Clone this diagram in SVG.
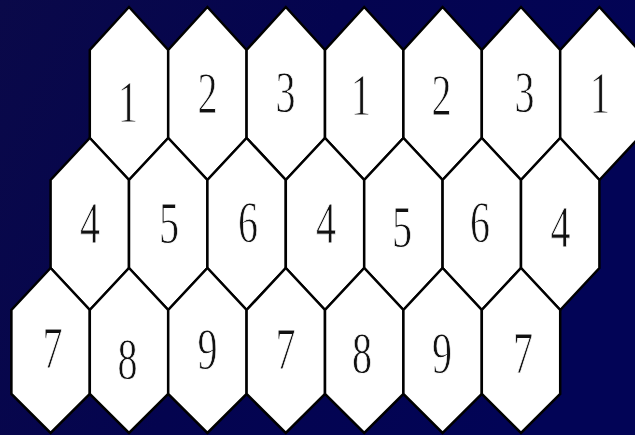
<svg xmlns="http://www.w3.org/2000/svg" width="635" height="435" viewBox="0 0 635 435">
<defs>
<linearGradient id="bg" x1="0" y1="0" x2="1" y2="0.3">
<stop offset="0" stop-color="#0a0949"/>
<stop offset="0.5" stop-color="#04044f"/>
<stop offset="1" stop-color="#020456"/>
</linearGradient>
</defs>
<style>
.hex{fill:#fff;stroke:#000;stroke-width:2.5;stroke-linejoin:miter}
.num{font-family:"Liberation Serif","Times New Roman",serif;font-size:40px;fill:#111;stroke:#fff;stroke-width:0.6;text-anchor:middle}
</style>
<rect x="0" y="0" width="635" height="435" fill="url(#bg)"/>
<g id="row1" font-family="Liberation Serif, serif">
<g id="h1-1"><polygon class="hex" points="129,7 168.2,50 168.2,138 129,180 89.8,138 89.8,50"/><text class="num" transform="translate(128,121.7) scale(1,1.48)">1</text></g>
<g id="h1-2"><polygon class="hex" points="207.4,7 246.6,50 246.6,138 207.4,180 168.2,138 168.2,50"/><text class="num" transform="translate(207.5,112.5) scale(1,1.48)">2</text></g>
<g id="h1-3"><polygon class="hex" points="285.8,7 325,50 325,138 285.8,180 246.6,138 246.6,50"/><text class="num" transform="translate(285.5,111.5) scale(1,1.48)">3</text></g>
<g id="h1-4"><polygon class="hex" points="364.2,7 403.4,50 403.4,138 364.2,180 325,138 325,50"/><text class="num" transform="translate(361,115) scale(1,1.48)">1</text></g>
<g id="h1-5"><polygon class="hex" points="442.6,7 481.8,50 481.8,138 442.6,180 403.4,138 403.4,50"/><text class="num" transform="translate(441.5,115) scale(1,1.48)">2</text></g>
<g id="h1-6"><polygon class="hex" points="521,7 560.2,50 560.2,138 521,180 481.8,138 481.8,50"/><text class="num" transform="translate(524.5,111.5) scale(1,1.48)">3</text></g>
<g id="h1-7"><polygon class="hex" points="599.4,7 638.6,50 638.6,138 599.4,180 560.2,138 560.2,50"/><text class="num" transform="translate(600,112.5) scale(1,1.48)">1</text></g>
</g>
<g id="row2">
<g id="h2-1"><polygon class="hex" points="89.8,138 129,180 129,268 89.8,310 50.6,268 50.6,180"/><text class="num" transform="translate(90,243) scale(1,1.48)">4</text></g>
<g id="h2-2"><polygon class="hex" points="168.2,138 207.4,180 207.4,268 168.2,310 129,268 129,180"/><text class="num" transform="translate(169,242.7) scale(1,1.48)">5</text></g>
<g id="h2-3"><polygon class="hex" points="246.6,138 285.8,180 285.8,268 246.6,310 207.4,268 207.4,180"/><text class="num" transform="translate(248,241.7) scale(1,1.48)">6</text></g>
<g id="h2-4"><polygon class="hex" points="325,138 364.2,180 364.2,268 325,310 285.8,268 285.8,180"/><text class="num" transform="translate(326,243) scale(1,1.48)">4</text></g>
<g id="h2-5"><polygon class="hex" points="403.4,138 442.6,180 442.6,268 403.4,310 364.2,268 364.2,180"/><text class="num" transform="translate(402,246.7) scale(1,1.48)">5</text></g>
<g id="h2-6"><polygon class="hex" points="481.8,138 521,180 521,268 481.8,310 442.6,268 442.6,180"/><text class="num" transform="translate(480,242) scale(1,1.48)">6</text></g>
<g id="h2-7"><polygon class="hex" points="560.2,138 599.4,180 599.4,268 560.2,310 521,268 521,180"/><text class="num" transform="translate(560.5,247) scale(1,1.48)">4</text></g>
</g>
<g id="row3">
<g id="h3-1"><polygon class="hex" points="50.6,268 89.8,310 89.8,394 50.6,433 11.4,394 11.4,310"/><text class="num" transform="translate(52.5,368) scale(1,1.48)">7</text></g>
<g id="h3-2"><polygon class="hex" points="129,268 168.2,310 168.2,394 129,433 89.8,394 89.8,310"/><text class="num" transform="translate(127.5,379) scale(1,1.48)">8</text></g>
<g id="h3-3"><polygon class="hex" points="207.4,268 246.6,310 246.6,394 207.4,433 168.2,394 168.2,310"/><text class="num" transform="translate(207.5,369) scale(1,1.48)">9</text></g>
<g id="h3-4"><polygon class="hex" points="285.8,268 325,310 325,394 285.8,433 246.6,394 246.6,310"/><text class="num" transform="translate(285.5,369) scale(1,1.48)">7</text></g>
<g id="h3-5"><polygon class="hex" points="364.2,268 403.4,310 403.4,394 364.2,433 325,394 325,310"/><text class="num" transform="translate(362,373) scale(1,1.48)">8</text></g>
<g id="h3-6"><polygon class="hex" points="442.6,268 481.8,310 481.8,394 442.6,433 403.4,394 403.4,310"/><text class="num" transform="translate(442,373) scale(1,1.48)">9</text></g>
<g id="h3-7"><polygon class="hex" points="521,268 560.2,310 560.2,394 521,433 481.8,394 481.8,310"/><text class="num" transform="translate(523,373) scale(1,1.48)">7</text></g>
</g>
</svg>
